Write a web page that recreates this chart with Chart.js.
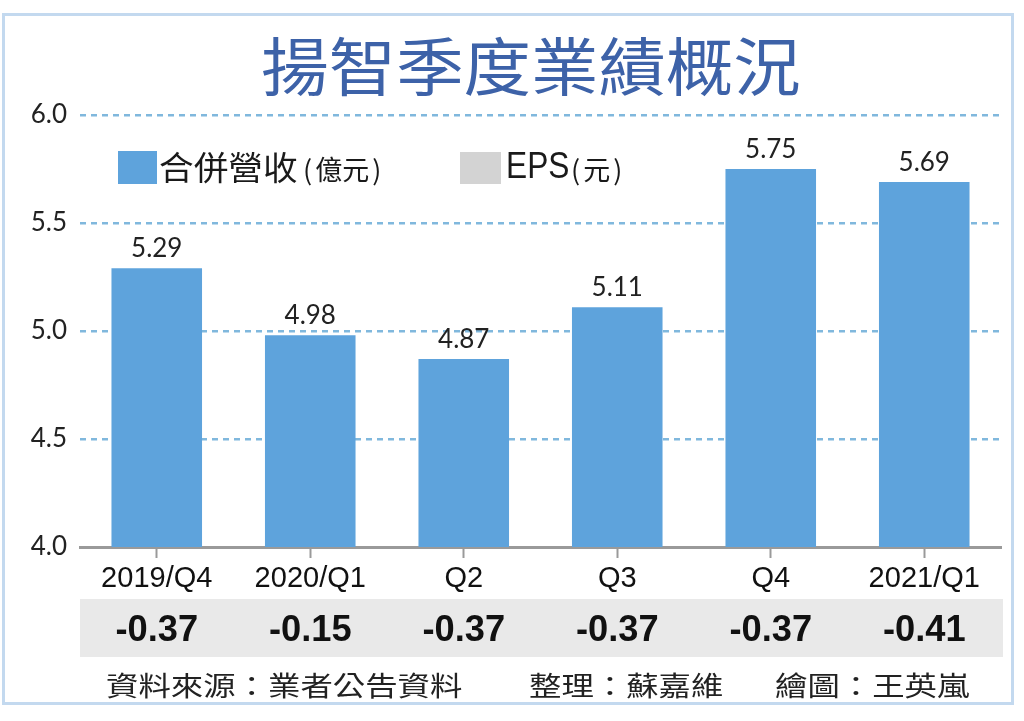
<!DOCTYPE html>
<html>
<head>
<meta charset="utf-8">
<script src="https://cdn.jsdelivr.net/npm/chart.js@4.4.0/dist/chart.umd.min.js"></script>
<style>
  html, body { margin: 0; padding: 0; background: #ffffff; }
  #wrap { width: 1024px; height: 721px; position: relative; }
</style>
</head>
<body>
<div id="wrap"><canvas id="c" width="1024" height="721"></canvas></div>
<script>
// ---- data ----
const categories = ['2019/Q4', '2020/Q1', 'Q2', 'Q3', 'Q4', '2021/Q1'];
const revenue = [5.29, 4.98, 4.87, 5.11, 5.75, 5.69];
const eps = [-0.37, -0.15, -0.37, -0.37, -0.37, -0.41];
const yTicks = [4.0, 4.5, 5.0, 5.5, 6.0];
const titleText = '揚智季度業績概況';
const legendRevenue = ['合併營收', '億元'];
const legendEps = ['EPS', '元'];
const footerParts = ['資料來源：業者公告資料', '整理：蘇嘉維', '繪圖：王英嵐'];

const CJK = '"Noto Sans CJK TC", "Noto Sans CJK SC", sans-serif';
const NUM = 'Lato, "DejaVu Sans", sans-serif';
const NARROW = '"Liberation Sans Narrow", "Liberation Sans", Arial, sans-serif';

function drawScaled(ctx, text, x, y, sx, align) {
  ctx.save();
  ctx.translate(x, y);
  ctx.scale(sx, 1);
  ctx.textAlign = align || 'left';
  ctx.fillText(text, 0, 0);
  ctx.restore();
}

// draws "(text)" with separated parentheses, returns end x
function drawParen(ctx, text, x, y, size) {
  ctx.font = size + 'px ' + CJK;
  ctx.textAlign = 'left';
  ctx.fillText('(', x, y);
  let cx = x + ctx.measureText('(').width + 3;
  ctx.fillText(text, cx, y);
  cx += ctx.measureText(text).width + 3;
  ctx.fillText(')', cx, y);
  return cx + ctx.measureText(')').width;
}

const decor = {
  id: 'decor',
  beforeDraw(chart) {
    const ctx = chart.ctx;
    ctx.save();
    // frame
    ctx.strokeStyle = '#c3d9ef';
    ctx.lineWidth = 3;
    ctx.strokeRect(3.5, 14.5, 1009, 689);
    // EPS band
    ctx.fillStyle = '#e9e9e9';
    ctx.fillRect(chart.chartArea.left, 599, 1003 - chart.chartArea.left, 58);
    ctx.restore();
  },
  afterDraw(chart) {
    const ctx = chart.ctx;
    const xs = chart.scales.x;
    ctx.save();
    ctx.textBaseline = 'middle';
    // title
    ctx.fillStyle = '#3d62a8';
    ctx.font = '400 63px ' + CJK;
    drawScaled(ctx, titleText, 531, 66, 1.07, 'center');

    // legend
    ctx.fillStyle = '#5ea3dc';
    ctx.fillRect(118, 151, 39, 33);
    ctx.fillStyle = '#1a1a1a';
    ctx.font = '33px ' + CJK;
    drawScaled(ctx, legendRevenue[0], 159, 167, 1.05, 'left');
    drawParen(ctx, legendRevenue[1], 303, 170, 27);

    ctx.fillStyle = '#d3d3d3';
    ctx.fillRect(460, 152, 41, 32);
    ctx.fillStyle = '#1a1a1a';
    ctx.font = '36px ' + NARROW;
    drawScaled(ctx, legendEps[0], 506, 168, 0.88, 'left');
    drawParen(ctx, legendEps[1], 571, 170, 27);

    // value labels
    ctx.font = '26px ' + NUM;
    ctx.fillStyle = '#222222';
    ctx.textAlign = 'center';
    ctx.textBaseline = 'alphabetic';
    const meta = chart.getDatasetMeta(0);
    meta.data.forEach((bar, i) => {
      ctx.fillText(revenue[i].toFixed(2), bar.x, bar.y - 11);
    });

    // EPS values
    ctx.textBaseline = 'middle';
    ctx.font = 'bold 37px ' + NARROW;
    ctx.fillStyle = '#111111';
    eps.forEach((v, i) => {
      drawScaled(ctx, v.toFixed(2), xs.getPixelForValue(i), 631, 0.98, 'center');
    });

    // footer
    ctx.font = '27px ' + CJK;
    ctx.fillStyle = '#222222';
    drawScaled(ctx, footerParts[0], 106, 686, 1.2, 'left');
    drawScaled(ctx, footerParts[1], 529, 686, 1.2, 'left');
    drawScaled(ctx, footerParts[2], 775, 686, 1.2, 'left');
    ctx.restore();
  }
};

new Chart(document.getElementById('c'), {
  type: 'bar',
  data: {
    labels: categories,
    datasets: [{
      label: legendRevenue.join(''),
      data: revenue,
      backgroundColor: '#5ea3dc',
      borderWidth: 0,
      categoryPercentage: 1.0,
      barPercentage: 0.59
    }]
  },
  options: {
    responsive: false,
    animation: false,
    devicePixelRatio: 1,
    layout: { padding: { left: 0, right: 23, top: 115, bottom: 0 } },
    plugins: {
      legend: { display: false },
      title: { display: false },
      tooltip: { enabled: false }
    },
    scales: {
      y: {
        min: 4,
        max: 6,
        afterFit(scale) { scale.width = 80; },
        afterBuildTicks(scale) { scale.ticks = yTicks.map(v => ({ value: v })); },
        ticks: {
          padding: 13,
          color: '#222222',
          font: { family: 'Lato, "DejaVu Sans", sans-serif', size: 26 },
          callback: v => Number(v).toFixed(1)
        },
        grid: {
          color: '#80b8dd',
          lineWidth: 2.5,
          drawTicks: false
        },
        border: { display: false, dash: [6, 5] }
      },
      x: {
        afterFit(scale) { scale.height = 721 - 547; },
        offset: true,
        ticks: {
          padding: 4,
          color: '#111111',
          font: { family: '"Liberation Sans Narrow", "Liberation Sans", Arial, sans-serif', size: 29 },
          maxRotation: 0,
          autoSkip: false
        },
        grid: {
          offset: false,
          drawOnChartArea: false,
          drawTicks: true,
          tickLength: 11,
          tickColor: '#9a9a9a',
          tickWidth: 2
        },
        border: { display: true, color: '#9a9a9a', width: 3 }
      }
    }
  },
  plugins: [decor]
});
</script>
</body>
</html>
